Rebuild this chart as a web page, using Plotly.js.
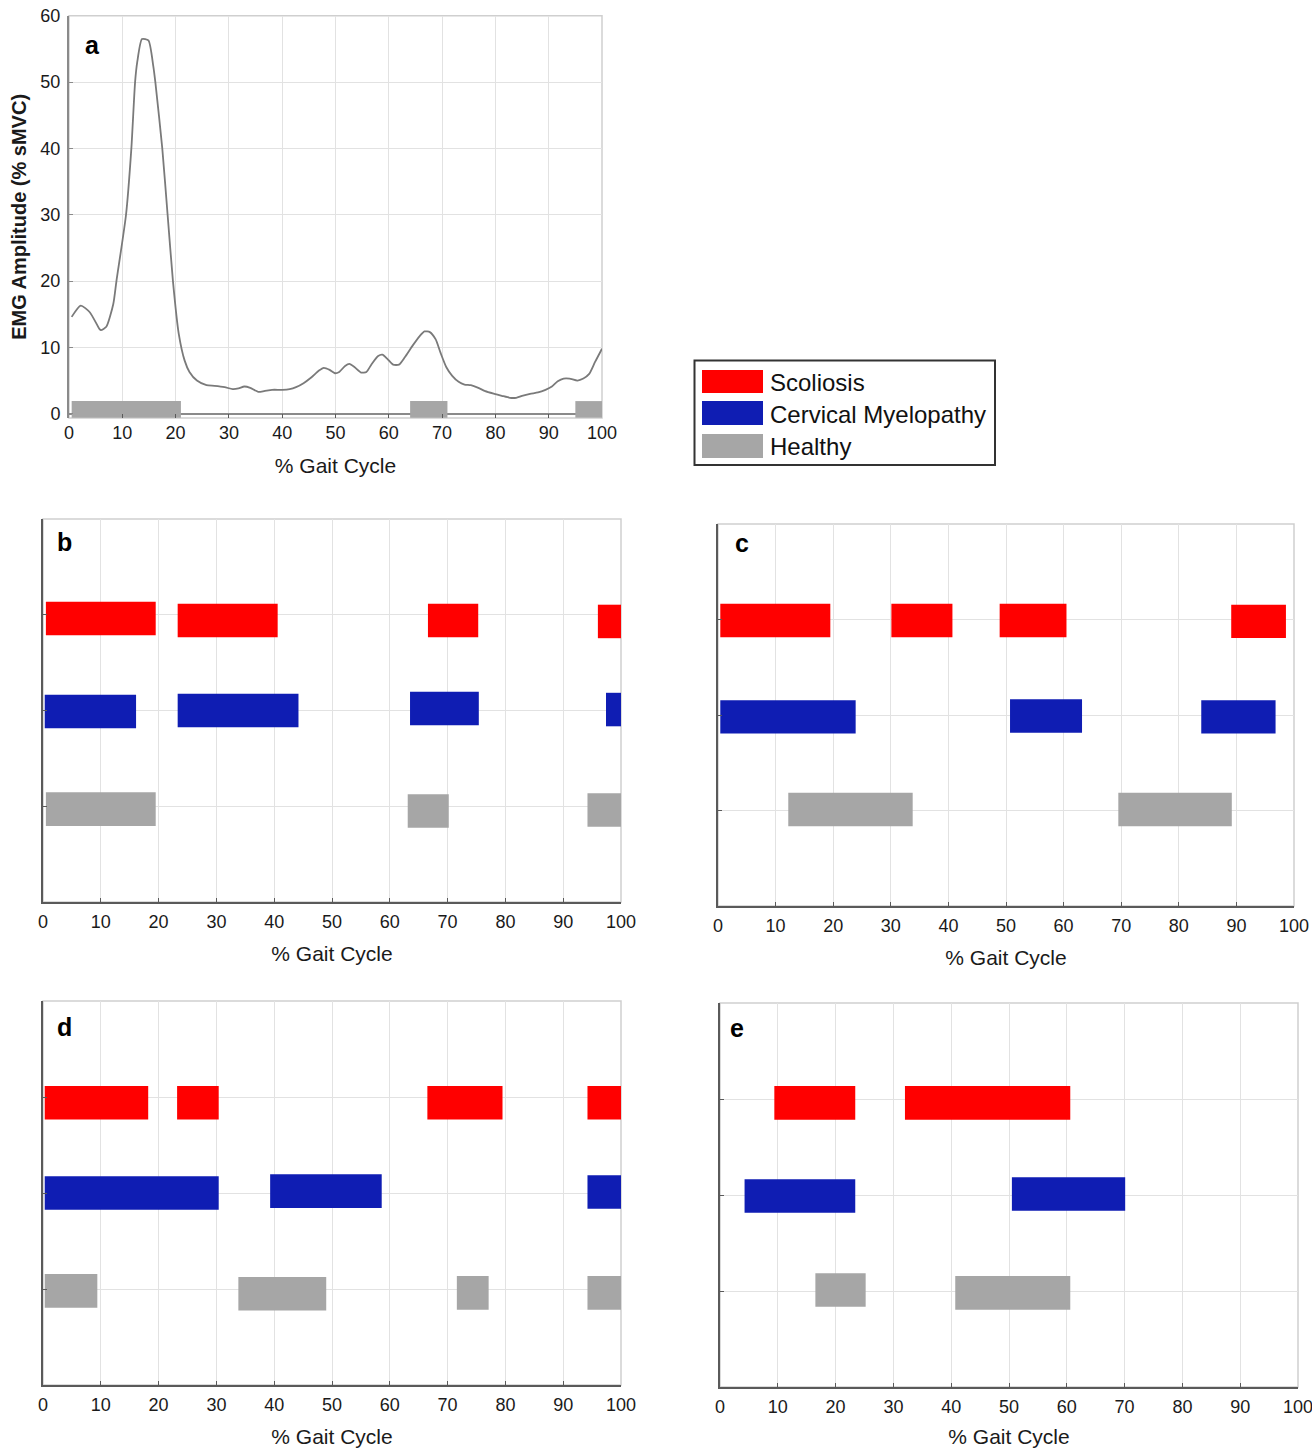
<!DOCTYPE html>
<html>
<head>
<meta charset="utf-8">
<script src="https://cdn.plot.ly/plotly-3.0.1.min.js"></script>
<style>html,body{margin:0;padding:0;background:#fff;}#chart{width:1312px;height:1448px;}</style>
</head>
<body>
<div id="chart"></div>
<script>
// ---------- Panel a: EMG envelope ----------
const gaitPct = [0.5,2.2,3.9,5.7,6.0,7.0,8.3,8.9,10.7,11.7,12.4,12.8,13.7,14.9,15.8,16.2,17.5,18.5,19.5,20.6,21.7,22.6,24,25.8,27.3,29.2,30.7,31.8,32.9,34,35.5,36.6,38.1,40,41.4,42.6,44,45.5,46.9,47.8,48.9,49.9,50.7,51.8,52.6,53.6,54.8,55.8,56.8,58,58.8,59.8,60.8,61.9,63,64.5,65.8,66.7,67.7,68.8,69.7,70.8,71.9,73.1,74.2,75.4,76.8,78.1,79.8,81.2,82.7,83.9,85,86.5,88,89.4,90.6,91.7,92.8,93.9,95.4,96.5,97.6,98.7,100];
const emgAmp  = [14.6,16.3,15.3,12.8,12.6,13.1,16.5,20,30,40,50,53,56.5,56.3,52.5,50,40,30,20,12,8,6.3,5,4.3,4.2,4.0,3.7,3.8,4.1,3.9,3.3,3.4,3.6,3.6,3.7,4.0,4.6,5.5,6.5,6.9,6.6,6.1,6.3,7.2,7.5,7.0,6.2,6.3,7.5,8.7,8.9,8.2,7.4,7.4,8.5,10.3,11.7,12.4,12.3,11.2,9.2,7.0,5.7,4.8,4.4,4.3,3.9,3.4,3.0,2.7,2.4,2.4,2.7,3.0,3.2,3.6,4.1,4.9,5.3,5.3,5.0,5.3,6.0,7.8,9.8];
const aHealthyStart = [0.5, 64, 95];
const aHealthyEnd   = [21, 71, 100];
const aHealthyLow = -0.6, aHealthyHigh = 1.9;

// ---------- Panels b-e: activation windows (% gait cycle) ----------
// row centres: Scoliosis ~3, Cervical Myelopathy ~2, Healthy ~1
const bScolStart = [0.5, 23.3, 66.6, 96.0];  const bScolEnd = [19.5, 40.6, 75.3, 100];  const bScolY = [2.96, 2.94, 2.94, 2.93];
const bCervStart = [0.3, 23.3, 63.5, 97.4];  const bCervEnd = [16.1, 44.2, 75.4, 100];  const bCervY = [1.99, 2.0, 2.02, 2.01];
const bHlthStart = [0.5, 63.1, 94.2];        const bHlthEnd = [19.5, 70.2, 100];        const bHlthY = [0.97, 0.95, 0.96];

const cScolStart = [0.4, 30.1, 48.9, 89.1];  const cScolEnd = [19.5, 40.7, 60.5, 98.6];  const cScolY = [2.99, 2.99, 2.99, 2.98];
const cCervStart = [0.4, 50.7, 83.9];        const cCervEnd = [23.9, 63.2, 96.8];        const cCervY = [1.98, 1.99, 1.98];
const cHlthStart = [12.2, 69.5];             const cHlthEnd = [33.8, 89.2];              const cHlthY = [1.01, 1.01];

const dScolStart = [0.3, 23.2, 66.5, 94.2];  const dScolEnd = [18.2, 30.4, 79.5, 100];   const dScolY = [2.94, 2.94, 2.94, 2.94];
const dCervStart = [0.3, 39.3, 94.2];        const dCervEnd = [30.4, 58.6, 100];         const dCervY = [2.0, 2.02, 2.01];
const dHlthStart = [0.3, 33.8, 71.6, 94.2];  const dHlthEnd = [9.4, 49.0, 77.1, 100];    const dHlthY = [0.98, 0.95, 0.96, 0.96];

const eScolStart = [9.4, 32.0];              const eScolEnd = [23.4, 60.6];              const eScolY = [2.96, 2.96];
const eCervStart = [4.25, 50.5];             const eCervEnd = [23.4, 70.1];              const eCervY = [1.99, 2.01];
const eHlthStart = [16.5, 40.7];             const eHlthEnd = [25.2, 60.6];              const eHlthY = [1.01, 0.98];

const groupNames = ['Scoliosis', 'Cervical Myelopathy', 'Healthy'];
const panelLetters = ['a', 'b', 'c', 'd', 'e'];
const xTitle = '% Gait Cycle';
const yTitleA = 'EMG Amplitude (% sMVC)';

// ---------- styles ----------
const RED = '#ff0000', BLUE = '#0f1db3', GREY = '#a6a6a6';
const TICKF = '"Liberation Sans Narrow", "Arial Narrow", "Liberation Sans", Arial, sans-serif';
const SANS = '"Liberation Sans", Arial, sans-serif';
const W = 1312, H = 1448;
const px = v => v / W;
const py = v => 1 - v / H;

function bars(starts, ends, ys, color, xa, ya, thick, name) {
  return {
    type: 'bar', orientation: 'h', name: name,
    base: starts, x: ends.map((e, i) => e - starts[i]), y: ys,
    width: thick, marker: {color: color, line: {width: 0}},
    xaxis: xa, yaxis: ya, hoverinfo: 'skip', showlegend: false
  };
}

const traces = [];
traces.push(bars(aHealthyStart, aHealthyEnd, aHealthyStart.map(() => (aHealthyLow + aHealthyHigh) / 2), GREY, 'x', 'y', aHealthyHigh - aHealthyLow, 'Healthy'));
traces.push({type: 'scatter', mode: 'lines', x: gaitPct, y: emgAmp, line: {color: '#7a7a7a', width: 1.8, shape: 'spline', smoothing: 0.6}, xaxis: 'x', yaxis: 'y', showlegend: false, hoverinfo: 'skip'});

const panelData = [
  ['x2', 'y2', [bScolStart, bScolEnd, bScolY], [bCervStart, bCervEnd, bCervY], [bHlthStart, bHlthEnd, bHlthY]],
  ['x3', 'y3', [cScolStart, cScolEnd, cScolY], [cCervStart, cCervEnd, cCervY], [cHlthStart, cHlthEnd, cHlthY]],
  ['x4', 'y4', [dScolStart, dScolEnd, dScolY], [dCervStart, dCervEnd, dCervY], [dHlthStart, dHlthEnd, dHlthY]],
  ['x5', 'y5', [eScolStart, eScolEnd, eScolY], [eCervStart, eCervEnd, eCervY], [eHlthStart, eHlthEnd, eHlthY]]
];
const cols = [RED, BLUE, GREY];
panelData.forEach(p => {
  for (let g = 0; g < 3; g++) {
    const d = p[2 + g];
    traces.push(bars(d[0], d[1], d[2], cols[g], p[0], p[1], 0.35, groupNames[g]));
  }
});

// ---------- axes ----------
function xAxis(domain, anchor) {
  return {
    domain: domain, anchor: anchor, range: [0, 100], tick0: 0, dtick: 10,
    showgrid: true, gridcolor: '#e2e2e2', gridwidth: 1, zeroline: false,
    showline: true, linecolor: '#5a5a5a', linewidth: 2,
    ticks: 'inside', ticklen: 4, tickcolor: '#5a5a5a', tickwidth: 1,
    tickfont: {family: TICKF, size: 18, color: '#1a1a1a'}, ticklabelstandoff: 2,
    ticklabeloverflow: 'allow',
    title: {text: xTitle, font: {family: TICKF, size: 21, color: '#1a1a1a'}, standoff: 16},
    fixedrange: true
  };
}
function yAxisBars(domain, anchor) {
  return {
    domain: domain, anchor: anchor, range: [0, 4], tickvals: [1, 2, 3], showticklabels: false,
    showgrid: true, gridcolor: '#e2e2e2', gridwidth: 1, zeroline: false,
    showline: true, linecolor: '#5a5a5a', linewidth: 2,
    ticks: 'inside', ticklen: 4, tickcolor: '#5a5a5a', fixedrange: true
  };
}

const layout = {
  width: W, height: H, margin: {l: 0, r: 0, t: 0, b: 0},
  paper_bgcolor: '#ffffff', plot_bgcolor: '#ffffff',
  showlegend: false, barmode: 'overlay',
  xaxis: Object.assign(xAxis([px(69), px(602)], 'y'), {linecolor: '#8a8a8a', showline: false}),
  yaxis: {
    domain: [py(418), py(15.8)], anchor: 'x', range: [-0.65, 60], tick0: 0, dtick: 10,
    showgrid: true, gridcolor: '#e2e2e2', zeroline: true, zerolinecolor: '#8a8a8a', zerolinewidth: 2,
    showline: true, linecolor: '#8a8a8a', linewidth: 2,
    ticks: 'inside', ticklen: 4, tickcolor: '#8a8a8a',
    tickfont: {family: TICKF, size: 18, color: '#1a1a1a'}, ticklabelstandoff: 3,
    ticklabeloverflow: 'allow',
    title: {text: yTitleA, font: {family: SANS, size: 20, color: '#1a1a1a', weight: 'bold'}, standoff: 8},
    fixedrange: true
  },
  xaxis2: xAxis([px(43), px(621)], 'y2'),
  yaxis2: yAxisBars([py(902), py(519)], 'x2'),
  xaxis3: xAxis([px(718), px(1294)], 'y3'),
  yaxis3: yAxisBars([py(906), py(524)], 'x3'),
  xaxis4: xAxis([px(43), px(621)], 'y4'),
  yaxis4: yAxisBars([py(1385), py(1001)], 'x4'),
  xaxis5: xAxis([px(720), px(1298)], 'y5'),
  yaxis5: yAxisBars([py(1387), py(1003)], 'x5'),
  shapes: [],
  annotations: []
};

// light frames (top/right)
['', '2', '3', '4', '5'].forEach(s => {
  layout.shapes.push({type: 'rect', xref: 'x' + s + ' domain', yref: 'y' + s + ' domain', x0: 0, x1: 1, y0: 0, y1: 1,
    line: {color: '#cfcfcf', width: 1.5}, fillcolor: 'rgba(0,0,0,0)', layer: 'below'});
});

// panel letters
const letterPos = [[92, 45], [64, 542], [742, 543], [64, 1027], [737, 1028]];
panelLetters.forEach((L, i) => {
  layout.annotations.push({text: '<b>' + L + '</b>', xref: 'paper', yref: 'paper', x: px(letterPos[i][0]), y: py(letterPos[i][1]),
    xanchor: 'center', yanchor: 'middle', showarrow: false, font: {family: SANS, size: 25, color: '#000'}});
});

// legend box (drawn manually to get wide swatches)
layout.shapes.push({type: 'rect', xref: 'paper', yref: 'paper', x0: px(694.5), x1: px(995), y0: py(465), y1: py(360.5),
  line: {color: '#333333', width: 2}, fillcolor: '#ffffff'});
const legRows = [[370, 393, 382], [401, 425, 414], [434, 458, 447]];
groupNames.forEach((n, i) => {
  layout.shapes.push({type: 'rect', xref: 'paper', yref: 'paper', x0: px(702), x1: px(763), y0: py(legRows[i][1]), y1: py(legRows[i][0]),
    line: {width: 0}, fillcolor: cols[i]});
  layout.annotations.push({text: n, xref: 'paper', yref: 'paper', x: px(768), y: py(legRows[i][2]), xanchor: 'left', yanchor: 'middle',
    showarrow: false, font: {family: SANS, size: 24, color: '#111'}});
});

Plotly.newPlot('chart', traces, layout, {displayModeBar: false, staticPlot: true});
</script>
</body>
</html>
